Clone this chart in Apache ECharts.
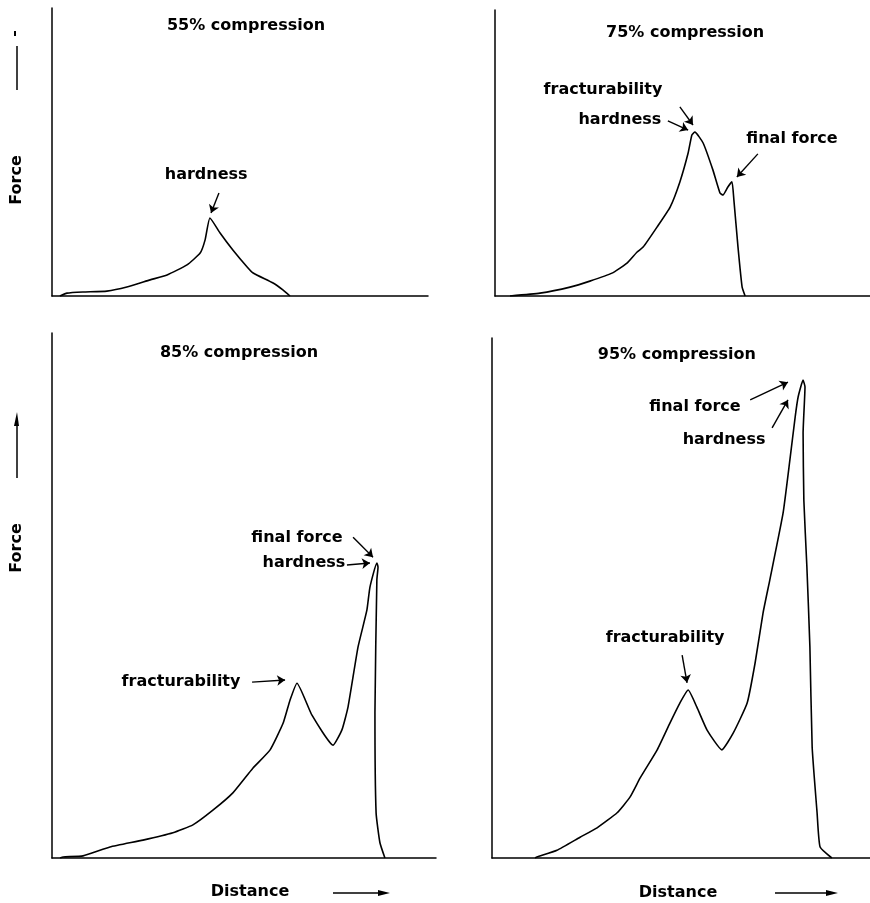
<!DOCTYPE html>
<html>
<head>
<meta charset="utf-8">
<script src="https://cdn.jsdelivr.net/npm/echarts@6/dist/echarts.min.js"></script>
<style>html,body{margin:0;padding:0;background:#fff;}#c{width:870px;height:903px;}</style>
</head>
<body>
<div id="c"></div>
<script>
// ---- data (arbitrary units: distance 0-100 across each panel, force 0-100 up each panel) ----
const titles = ['55% compression', '75% compression', '85% compression', '95% compression'];

const dist55  = [2.1,4.0,8.2,14.6,19.9,26.1,30.6,35.9,39.4,40.7,42.0,44.7,48.1,51.9,53.5,58.8,61.4,63.3];
const force55 = [0,1.0,1.4,1.7,3.1,5.6,7.3,10.8,14.9,19.4,27.1,21.9,16.0,10.1,8.0,4.5,2.1,0];

const dist75  = [4.0,12.0,20.0,25.3,31.2,35.2,37.9,39.5,43.2,46.7,49.3,51.5,52.5,53.3,55.5,58.1,60.0,60.8,62.1,63.2,63.7,64.8,65.9,66.7];
const force75 = [0,1.0,3.1,5.2,8.0,11.5,15.4,17.1,24.1,31.1,39.9,50.0,56.3,57.3,53.5,44.1,36.0,35.3,38.1,39.9,33.6,17.1,3.1,0];

const dist85  = [2.1,2.9,8.1,15.1,23.7,31.5,36.7,41.9,47.1,52.3,56.8,60.2,62.0,63.8,67.7,73.2,75.5,77.1,79.7,82.0,82.8,84.6,84.9,84.6,84.1,84.4,85.4,86.7];
const force85 = [0,0.2,0.4,2.1,3.4,4.8,6.3,9.1,12.4,17.1,20.6,25.7,30.1,33.3,27.2,21.5,24.4,28.8,40.2,47.2,51.6,56.2,55.4,53.0,27.6,8.6,2.9,0];

const dist95  = [11.4,11.9,17.2,23.3,27.8,33.1,36.5,39.2,43.7,47.1,49.7,51.9,54.2,56.9,60.8,63.8,67.5,69.6,71.7,73.5,77.0,78.8,80.2,81.0,82.3,82.8,82.3,82.5,83.3,84.1,84.7,86.0,86.8,89.9];
const force95 = [0,0.2,1.5,4.0,5.8,8.7,11.7,15.4,20.8,26.0,29.8,32.3,29.0,24.6,20.8,24.0,29.8,37.5,47.1,53.5,66.3,76.5,84.8,88.7,91.9,90.6,81.7,68.8,56.0,40.6,21.3,8.7,2.1,0];

const distances = [dist55, dist75, dist85, dist95];
const forces = [force55, force75, force85, force95];

// ---- layout / annotations ----
const INK = '#000';
const FONT = 'DejaVu Sans';
const grids = [
  {left: 52,  top: 8,   width: 376, height: 288},
  {left: 495, top: 10,  width: 375, height: 286},
  {left: 52,  top: 333, width: 384, height: 525},
  {left: 492, top: 338, width: 378, height: 520}
];
const titlePos = [[51.6, 93.8], [50.7, 92.0], [48.7, 96.2], [48.9, 96.7]];
const notes = [
  [['hardness', 41.0, 42.0]],
  [['fracturability', 28.8, 72.0], ['hardness', 33.3, 61.5], ['final force', 79.2, 54.9]],
  [['final force', 63.8, 61.0], ['hardness', 65.6, 56.2], ['fracturability', 33.6, 33.5]],
  [['final force', 53.7, 86.7], ['hardness', 61.4, 80.4], ['fracturability', 45.8, 42.3]]
];
const arrows = [
  [[[44.4, 35.8], [42.3, 28.8]]],
  [[[49.3, 66.1], [52.8, 59.8]], [[46.1, 61.2], [51.5, 58.0]], [[70.1, 49.7], [64.5, 41.6]]],
  [[[78.4, 61.1], [83.6, 57.3]], [[76.8, 55.8], [82.8, 56.2]], [[52.1, 33.5], [60.7, 33.9]]],
  [[[68.3, 88.1], [78.3, 91.5]], [[74.1, 82.7], [78.3, 88.1]], [[50.3, 39.0], [51.6, 33.7]]]
];

const xAxes = [], yAxes = [], series = [];
grids.forEach((g, i) => {
  const axisCommon = {
    type: 'value', min: 0, max: 100, gridIndex: i,
    axisLine: {show: true, onZero: false, lineStyle: {color: INK, width: 1.5}},
    axisTick: {show: false}, axisLabel: {show: false}, splitLine: {show: false}
  };
  xAxes.push(Object.assign({}, axisCommon));
  yAxes.push(Object.assign({}, axisCommon));
  series.push({
    type: 'line', xAxisIndex: i, yAxisIndex: i,
    data: distances[i].map((d, k) => [d, forces[i][k]]),
    showSymbol: false, symbol: 'none', smooth: 0.15, silent: true,
    lineStyle: {color: INK, width: 1.6},
    markLine: {
      silent: true, symbol: ['none', 'arrow'], symbolSize: 8,
      label: {show: false},
      lineStyle: {color: INK, width: 1.4, type: 'solid'},
      emphasis: {disabled: true},
      data: arrows[i].map(a => [{coord: a[0]}, {coord: a[1]}])
    }
  });
  const labelItems = [{value: titlePos[i], name: titles[i]}].concat(
    notes[i].map(n => ({value: [n[1], n[2]], name: n[0]})));
  series.push({
    type: 'scatter', xAxisIndex: i, yAxisIndex: i, symbolSize: 0, silent: true,
    itemStyle: {opacity: 1},
    data: labelItems,
    label: {show: true, position: 'inside', formatter: p => p.name,
      color: INK, fontFamily: FONT, fontWeight: 'bold', fontSize: 16, align: 'center', verticalAlign: 'middle'}
  });
});

const txt = (s, x, y, rot) => ({type: 'text', x, y, rotation: rot || 0, silent: true,
  style: {text: s, fill: INK, font: 'bold 16px "' + FONT + '"', align: 'center', verticalAlign: 'middle'}});
const ln = (x1, y1, x2, y2) => ({type: 'line', silent: true,
  shape: {x1, y1, x2, y2}, style: {stroke: INK, lineWidth: 1.5}});
const poly = pts => ({type: 'polygon', silent: true, shape: {points: pts}, style: {fill: INK}});

const chart = echarts.init(document.getElementById('c'), null, {renderer: 'canvas'});
chart.setOption({
  animation: false,
  backgroundColor: '#fff',
  grid: grids,
  xAxis: xAxes,
  yAxis: yAxes,
  series: series,
  graphic: [
    txt('Force', 17, 180, Math.PI / 2),
    ln(17, 90, 17, 46), poly([[14, 31], [16, 31], [16, 36], [14, 36]]),
    txt('Force', 17, 548, Math.PI / 2),
    ln(17, 478, 17, 420), poly([[17, 412], [14, 426], [19, 426]]),
    txt('Distance', 250, 892),
    ln(333, 893, 382, 893), poly([[390, 893], [378, 890], [378, 896]]),
    txt('Distance', 678, 893),
    ln(775, 893, 830, 893), poly([[838, 893], [826, 890], [826, 896]])
  ]
});
</script>
</body>
</html>
